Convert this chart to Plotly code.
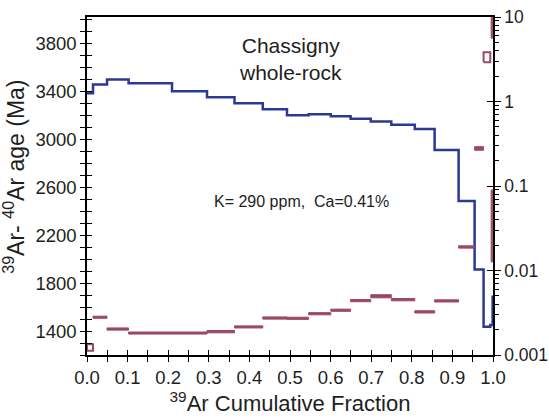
import plotly.graph_objects as go

# ---- Age spectrum (blue steps) ----
age_edges = [0.0, 0.0148, 0.0493, 0.1025, 0.2094, 0.2956, 0.3633, 0.433, 0.4926,
             0.5458, 0.6005, 0.6493, 0.699, 0.7495, 0.8074, 0.8562, 0.9153,
             0.9547, 0.9768, 0.9933, 0.999, 1.0]
ages = [3388, 3460, 3502, 3471, 3405, 3355, 3304, 3254, 3204, 3213, 3196, 3174,
        3152, 3125, 3088, 2914, 2487, 1915, 1436, 1450, 1686]

# ---- Ca/K steps (maroon, right log axis) ----
cak_x0 = [0.0, 0.0148, 0.0493, 0.1025, 0.2956, 0.3633, 0.433, 0.4926, 0.5458,
          0.6005, 0.6493, 0.699, 0.7495, 0.8074, 0.8562, 0.9153, 0.9547, 0.9768,
          0.9955, 0.9955]
cak_x1 = [0.0148, 0.0493, 0.1025, 0.2956, 0.3633, 0.433, 0.4926, 0.5458, 0.6005,
          0.6493, 0.699, 0.7495, 0.8074, 0.8562, 0.9153, 0.9547, 0.9768, 0.9933,
          0.9985, 0.9985]
cak_lo = [0.00112, 0.00272, 0.00197, 0.00177, 0.00183, 0.00209, 0.00266, 0.00264,
          0.00299, 0.00329, 0.00427, 0.00475, 0.00438, 0.00314, 0.00424, 0.0184,
          0.265, 2.91, 5.6, 0.0126]
cak_hi = [0.00134, 0.00288, 0.00209, 0.00187, 0.00195, 0.00221, 0.00282, 0.0028,
          0.00317, 0.00349, 0.00453, 0.00517, 0.00466, 0.00334, 0.0045, 0.0196,
          0.292, 3.82, 9.9, 0.09]
cak_open = [1, 0, 0, 0, 0, 0, 0, 0, 0, 0, 0, 0, 0, 0, 0, 0, 0, 1, 0, 0]

x_ticks = [0.0, 0.1, 0.2, 0.3, 0.4, 0.5, 0.6, 0.7, 0.8, 0.9, 1.0]
x_ticklabels = ["0.0", "0.1", "0.2", "0.3", "0.4", "0.5", "0.6", "0.7", "0.8", "0.9", "1.0"]
y_ticks = [1400, 1800, 2200, 2600, 3000, 3400, 3800]
y2_ticks = [0.001, 0.01, 0.1, 1, 10]
y2_ticklabels = ["0.001", "0.01", "0.1", "1", "10"]
y2_minor = [m * d for d in (0.001, 0.01, 0.1, 1) for m in range(2, 10)]

BLUE = "#2b3990"
MAROON = "#9a4868"
FONT = "Liberation Sans, Arial, sans-serif"
TXT = "#1e1e1e"
TICKFONT = 18.5

fig = go.Figure()

def rect_xy(idx_list):
    xs, ys = [], []
    for i in idx_list:
        xs += [cak_x0[i], cak_x1[i], cak_x1[i], cak_x0[i], cak_x0[i], None]
        ys += [cak_lo[i], cak_lo[i], cak_hi[i], cak_hi[i], cak_lo[i], None]
    return xs, ys

filled = [i for i in range(len(cak_x0)) if not cak_open[i]]
hollow = [i for i in range(len(cak_x0)) if cak_open[i]]

for i in filled:
    xs, ys = rect_xy([i])
    fig.add_trace(go.Scatter(x=xs, y=ys, mode="lines", fill="toself",
                             fillcolor=MAROON, line=dict(color=MAROON, width=1),
                             yaxis="y2", showlegend=False, hoverinfo="skip"))
xs, ys = rect_xy(hollow)
fig.add_trace(go.Scatter(x=xs, y=ys, mode="lines",
                         line=dict(color=MAROON, width=2),
                         yaxis="y2", showlegend=False, hoverinfo="skip"))

# age spectrum
fig.add_trace(go.Scatter(x=age_edges, y=ages + [ages[-1]], mode="lines",
                         line=dict(color=BLUE, width=2.5, shape="hv"),
                         showlegend=False, hoverinfo="skip"))

axis_common = dict(showgrid=False, zeroline=False, linecolor="black", linewidth=1.5,
                   tickcolor="black", tickwidth=1.2, automargin=False)
overlay_common = dict(showgrid=False, zeroline=False, tickcolor="black", tickwidth=1.2,
                      automargin=False, showline=False, showticklabels=False)

fig.update_layout(
    width=549, height=419,
    margin=dict(l=87, r=56, t=17, b=64),
    paper_bgcolor="white", plot_bgcolor="white",
    font=dict(family=FONT, size=TICKFONT, color=TXT),
    xaxis=dict(range=[0, 1], showline=True, mirror=True, ticks="outside", ticklen=5,
               tickvals=x_ticks, ticktext=x_ticklabels,
               minor=dict(dtick=0.05, tick0=0, ticks="outside", ticklen=5,
                          tickcolor="black", tickwidth=1.2),
               title=dict(text="<sup>39</sup>Ar Cumulative Fraction",
                          font=dict(size=22), standoff=2),
               **axis_common),
    xaxis2=dict(range=[0, 1], overlaying="x", matches="x",
                ticks="inside", ticklen=5, tickvals=x_ticks,
                minor=dict(dtick=0.05, tick0=0, ticks="inside", ticklen=5,
                           tickcolor="black", tickwidth=1.2),
                **overlay_common),
    yaxis=dict(range=[1200, 4025], showline=True, ticks="outside", ticklen=5,
               tickvals=y_ticks,
               minor=dict(dtick=100, tick0=1200, ticks="outside", ticklen=5,
                          tickcolor="black", tickwidth=1.2),
               **axis_common),
    yaxis3=dict(range=[1200, 4025], overlaying="y", ticks="inside",
                ticklen=5, tickvals=y_ticks,
                minor=dict(dtick=100, tick0=1200, ticks="inside", ticklen=5,
                           tickcolor="black", tickwidth=1.2),
                **overlay_common),
    yaxis2=dict(type="log", range=[-3, 1], overlaying="y", side="right", anchor="x",
                showline=True, ticks="outside", ticklen=6,
                tickvals=y2_ticks, ticktext=y2_ticklabels, tickfont=dict(size=17.5),
                minor=dict(tickvals=y2_minor, ticks="outside", ticklen=4,
                           tickcolor="black", tickwidth=1),
                **axis_common),
    yaxis4=dict(type="log", range=[-3, 1], overlaying="y", side="right", anchor="x",
                ticks="inside", ticklen=6, tickvals=y2_ticks, **overlay_common),
    annotations=[
        dict(text="<sup>39</sup>Ar- <sup>40</sup>Ar age (Ma)", textangle=-90,
             x=-0.18, y=0.527, xref="paper", yref="paper", showarrow=False,
             font=dict(size=23, color=TXT), xanchor="center", yanchor="middle"),
        dict(text="Chassigny<br>whole-rock", x=0.5, y=0.876, xref="paper", yref="paper",
             showarrow=False, font=dict(size=21, color=TXT), xanchor="center", yanchor="middle"),
        dict(text="K= 290 ppm,  Ca=0.41%", x=0.528, y=0.4535, xref="paper", yref="paper",
             showarrow=False, font=dict(size=16, color=TXT), xanchor="center", yanchor="middle"),
    ],
)

# invisible traces on overlay axes so they render
fig.add_trace(go.Scatter(x=[0.5], y=[2000], xaxis="x2", yaxis="y3", mode="markers",
                         marker=dict(opacity=0), showlegend=False, hoverinfo="skip"))
fig.add_trace(go.Scatter(x=[0.5], y=[1], yaxis="y4", mode="markers",
                         marker=dict(opacity=0), showlegend=False, hoverinfo="skip"))

fig.write_html("out.html", config={"displayModeBar": False},
               post_script="document.body.style.margin='0';document.body.style.padding='0';")
